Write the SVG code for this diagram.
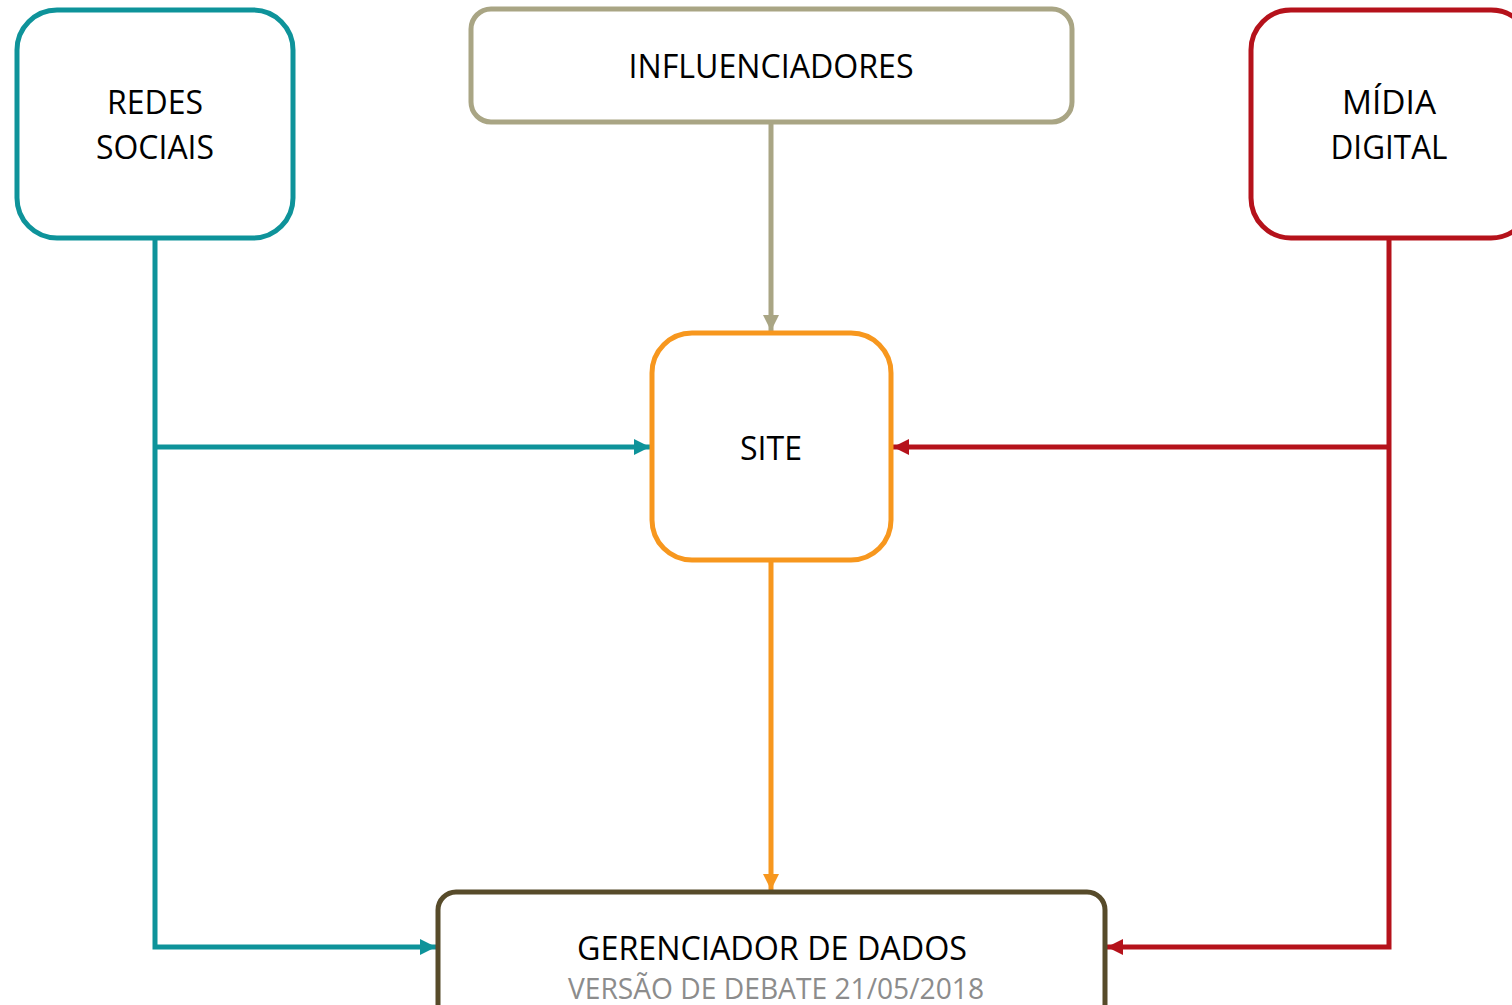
<svg xmlns="http://www.w3.org/2000/svg" width="1512" height="1005" viewBox="0 0 1512 1005">
<style>
.box{fill:#fff;stroke-width:5}
.t{font-family:"Open Sans","Liberation Sans",sans-serif;font-size:32px;fill:#000;text-anchor:middle}
.sub{font-family:"Open Sans","Liberation Sans",sans-serif;font-size:30px;fill:#8c8c8c;text-anchor:middle}
.ln{fill:none;stroke-width:5}
</style>
<defs>
<marker id="aTeal" markerUnits="userSpaceOnUse" markerWidth="18" markerHeight="18" refX="16" refY="8" orient="auto"><path d="M0,0 L16,8 L0,16 Z" fill="#0e939a"/></marker>
<marker id="aRed" markerUnits="userSpaceOnUse" markerWidth="18" markerHeight="18" refX="16" refY="8" orient="auto"><path d="M0,0 L16,8 L0,16 Z" fill="#b5121b"/></marker>
<marker id="aTan" markerUnits="userSpaceOnUse" markerWidth="18" markerHeight="18" refX="16" refY="8" orient="auto"><path d="M0,0 L16,8 L0,16 Z" fill="#a9a584"/></marker>
<marker id="aOr" markerUnits="userSpaceOnUse" markerWidth="18" markerHeight="18" refX="16" refY="8" orient="auto"><path d="M0,0 L16,8 L0,16 Z" fill="#f7971e"/></marker>
</defs>
<rect width="1512" height="1005" fill="#fff"/>
<g id="connectors">
<polyline class="ln" stroke="#0e939a" points="155,238 155,947 436,947" marker-end="url(#aTeal)"/>
<line class="ln" stroke="#0e939a" x1="155" y1="447" x2="650" y2="447" marker-end="url(#aTeal)"/>
<polyline class="ln" stroke="#b5121b" points="1389,238 1389,947 1107,947" marker-end="url(#aRed)"/>
<line class="ln" stroke="#b5121b" x1="1389" y1="447" x2="893" y2="447" marker-end="url(#aRed)"/>
<line class="ln" stroke="#a9a584" x1="771" y1="122" x2="771" y2="331" marker-end="url(#aTan)"/>
<line class="ln" stroke="#f7971e" x1="771" y1="560" x2="771" y2="890" marker-end="url(#aOr)"/>
</g>
<g id="redes">
<rect class="box" stroke="#0e939a" x="17" y="10" width="276" height="228" rx="40"/>
<text class="t" x="155" y="114" textLength="96" lengthAdjust="spacingAndGlyphs">REDES</text>
<text class="t" x="155" y="159" textLength="118" lengthAdjust="spacingAndGlyphs">SOCIAIS</text>
</g>
<g id="influenciadores">
<rect class="box" stroke="#a9a584" x="471" y="9" width="601" height="113" rx="20"/>
<text class="t" x="771" y="78" textLength="285" lengthAdjust="spacingAndGlyphs">INFLUENCIADORES</text>
</g>
<g id="midia">
<rect class="box" stroke="#b5121b" x="1251" y="10" width="280" height="228" rx="40"/>
<text class="t" x="1389" y="114" textLength="94" lengthAdjust="spacingAndGlyphs">MÍDIA</text>
<text class="t" x="1389" y="159" textLength="117" lengthAdjust="spacingAndGlyphs">DIGITAL</text>
</g>
<g id="site">
<rect class="box" stroke="#f7971e" x="652" y="333" width="239" height="227" rx="40"/>
<text class="t" x="771" y="460" textLength="62" lengthAdjust="spacingAndGlyphs">SITE</text>
</g>
<g id="gerenciador">
<rect class="box" stroke="#574b2a" x="438" y="892" width="667" height="130" rx="18"/>
<text class="t" x="772" y="960" textLength="390" lengthAdjust="spacingAndGlyphs">GERENCIADOR DE DADOS</text>
<text class="sub" x="776" y="999" textLength="416" lengthAdjust="spacingAndGlyphs">VERSÃO DE DEBATE 21/05/2018</text>
</g>
</svg>
